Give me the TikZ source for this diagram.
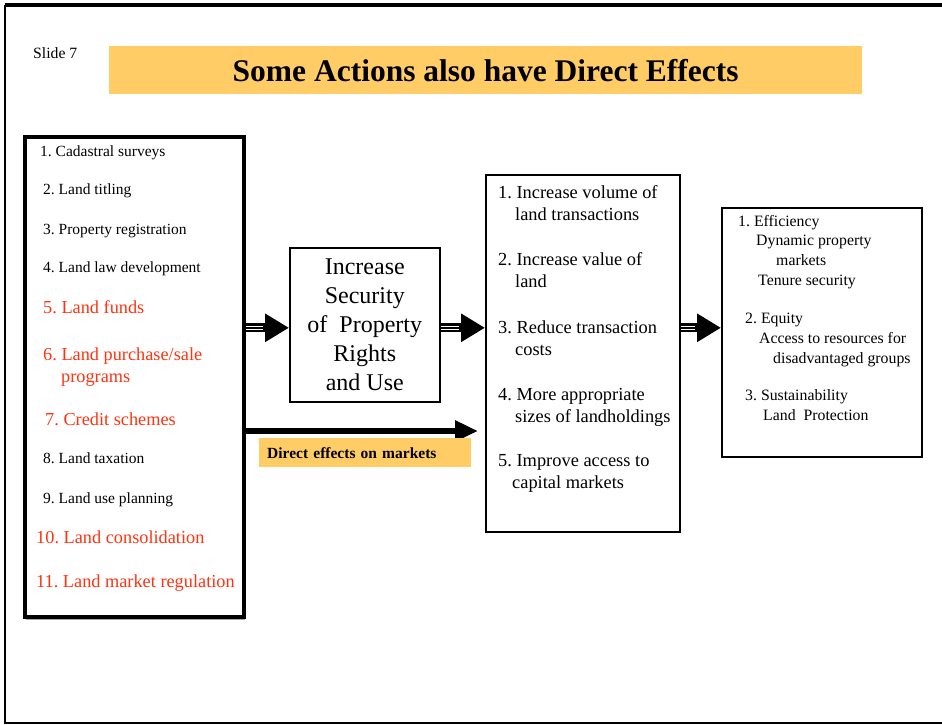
\documentclass[tikz,border=0pt]{standalone}
\usepackage{fontspec}
\setmainfont{Liberation Serif}
\frenchspacing
\usetikzlibrary{arrows.meta,shadows}
\definecolor{bandorange}{HTML}{FFCC66}
\definecolor{actred}{HTML}{FF3311}
\tikzset{
    act/.style={anchor=base west, inner sep=0, align=left, font=\fontsize{15.5}{22}\selectfont},
    redact/.style={act, text=actred, font=\fontsize{18.3}{22}\selectfont},
    rtxt/.style={act, font=\fontsize{18.4}{22}\selectfont},
    etxt/.style={act, font=\fontsize{15.8}{19.6}\selectfont},
    box/.style={draw, fill=white, inner sep=0, anchor=north west, line width=1.5},
    dblarrow/.style={line width=9, -{Triangle[length=24pt,width=27pt]},
        postaction={draw=white, line width=1, -, shorten >=26pt, transform canvas={yshift=1.6pt}},
        postaction={draw=white, line width=1, -, shorten >=26pt, transform canvas={yshift=-1.6pt}}},
}
\begin{document}
\begin{tikzpicture}[x=1pt, y=-1pt]
    \useasboundingbox (0,0) rectangle (942,725);
    % slide frame
    \draw[line width=3.5] (5,5) -- (945,5);
    \draw[line width=1.5] (5,5) -- (5,723) -- (945,723);
    \node[anchor=base west, inner sep=0, font=\fontsize{15.7}{18}\selectfont] (slide) at (33,59) {Slide 7};
    \node[fill=bandorange, minimum width=753, minimum height=48, inner sep=0, anchor=north west,
        font=\bfseries\fontsize{31.5}{36}\selectfont] (title) at (109,46) {Some Actions also have Direct Effects};
    % actions (multi-line nodes sit on their last baseline)
    \node[box, line width=4, minimum width=219, minimum height=480,
        drop shadow={shadow xshift=1pt, shadow yshift=-2.5pt, fill=gray!70, opacity=1}] (levers) at (23,135) {};
    \node[act] (l1) at (40,156) {1. Cadastral surveys};
    \node[act] (l2) at (43,194) {2. Land titling};
    \node[act] (l3) at (43,234) {3. Property registration};
    \node[act] (l4) at (43,272) {4. Land law development};
    \node[redact] (l5) at (43,313) {5. Land funds};
    \node[redact] (l6) at (43,382) {6. Land purchase/sale\\\hspace*{18pt}programs};
    \node[redact] (l7) at (45,425) {7. Credit schemes};
    \node[act] (l8) at (43,463) {8. Land taxation};
    \node[act] (l9) at (43,503) {9. Land use planning};
    \node[redact] (l10) at (36,543) {10. Land consolidation};
    \node[redact] (l11) at (36,587) {11. Land market regulation};
    % security
    \node[box, line width=1.6, minimum width=150, minimum height=154, align=center,
        font=\fontsize{24}{29}\selectfont] (sec) at (289,247) {Increase\\Security\\of\ \ Property\\Rights\\and Use};
    % market results
    \node[box, minimum width=194, minimum height=357] (res) at (485,174) {};
    \node[rtxt] (r1) at (498,220) {1. Increase volume of\\\hspace*{17pt}land transactions};
    \node[rtxt] (r2) at (498,287) {2. Increase value of\\\hspace*{17pt}land};
    \node[rtxt] (r3) at (498,355) {3. Reduce transaction\\\hspace*{17pt}costs};
    \node[rtxt] (r4) at (498,422) {4. More appropriate\\\hspace*{17pt}sizes of landholdings};
    \node[rtxt] (r5) at (498,488) {5. Improve access to\\\hspace*{14pt}capital markets};
    % goals
    \node[box, minimum width=200, minimum height=249] (eff) at (721,207) {};
    \node[etxt] (e1) at (738,285) {1. Efficiency\\\hspace*{18pt}Dynamic property\\\hspace*{38pt}markets\\\hspace*{20pt}Tenure security};
    \node[etxt] (e2) at (745,363) {2. Equity\\\hspace*{14pt}Access to resources for\\\hspace*{28pt}disadvantaged groups};
    \node[etxt] (e3) at (745,420) {3. Sustainability\\\hspace*{18pt}Land\ \ Protection};
    % arrows
    \coordinate (midl) at ([yshift=-3pt]sec.west);
    \coordinate (midr) at ([yshift=-3pt]sec.east);
    \draw[dblarrow] (levers.east |- midl) -- (midl);
    \draw[dblarrow] (midr) -- (res.west |- midr);
    \draw[dblarrow] (res.east |- midr) -- (eff.west |- midr);
    \coordinate (direct) at (478,431);
    \draw[line width=6, -{Triangle[length=23pt,width=20pt]}] (levers.east |- direct) -- (direct);
    \node[fill=bandorange, anchor=north west, inner xsep=8, inner ysep=0, text width=196, minimum height=29,
        font=\bfseries\fontsize{15.5}{18}\selectfont] (dlabel) at (259,438) {Direct effects on markets};
\end{tikzpicture}
\end{document}
